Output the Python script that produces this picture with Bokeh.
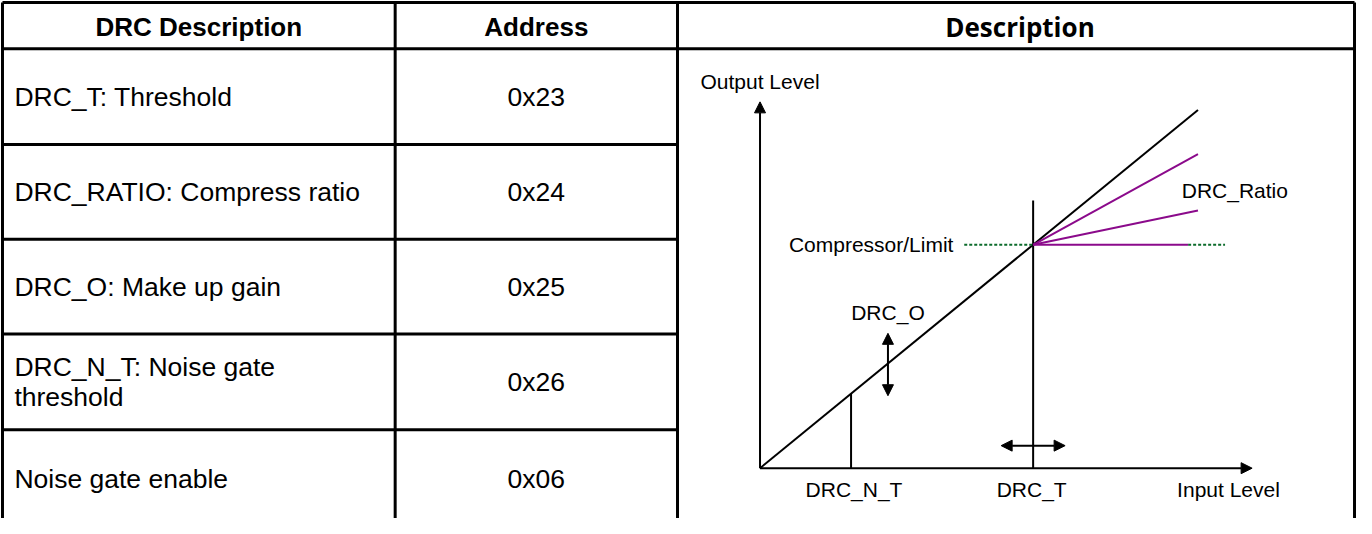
from bokeh.plotting import figure
from bokeh.models import Range1d, ColumnDataSource, Arrow, NormalHead
from bokeh.core.properties import value
from bokeh.embed import file_html
from bokeh.resources import INLINE

# ---------------- table content ----------------
headers = ["DRC Description", "Address", "Description"]
descriptions = [
    ["DRC_T: Threshold"],
    ["DRC_RATIO: Compress ratio"],
    ["DRC_O: Make up gain"],
    ["DRC_N_T: Noise gate", "threshold"],
    ["Noise gate enable"],
]
addresses = ["0x23", "0x24", "0x25", "0x26", "0x06"]

# ---------------- diagram values (level units, origin = 0) ----------------
input_axis_end = 100.0
output_axis_end = 91.0
noise_gate_level = 18.5
threshold_level = 55.5
unity_end_level = 89.0
ratio_end_input = [89.0, 89.0, 87.0]
ratio_end_output = [78.0, 64.0, 55.5]
threshold_marker_top = 66.5
limit_guide_left = 41.5
limit_guide_right_end = 94.5
makeup_arrow_x = 26.0
makeup_arrow_span = [18.0, 33.5]
threshold_arrow_y = 5.6
threshold_arrow_span = [49.0, 62.0]
diagram_labels = ["Output Level", "Compressor/Limit", "DRC_O", "DRC_Ratio",
                  "DRC_N_T", "DRC_T", "Input Level"]

# ---------------- layout (reference pixel frame) ----------------
W, H = 1356, 518
X0, X1 = 5, 1369
Y_TOP, Y_BOT = 5, 530
COLS = [7, 402, 686, 1367]
ROWS = [7, 54, 151, 247, 343, 440]
LAST_ROW_CENTER = 490
ORIGIN_X, ORIGIN_Y = 769, 479
PX_X, PX_Y = 4.95, 4.08

p = figure(width=W, height=H, x_range=Range1d(X0, X1), y_range=Range1d(Y_BOT, Y_TOP),
           output_backend="svg", toolbar_location=None, min_border=0)
p.axis.visible = False
p.grid.visible = False
p.outline_line_color = None
p.background_fill_color = "white"
p.border_fill_color = "white"

p.extra_x_ranges = {"lx": Range1d((X0 - ORIGIN_X) / PX_X, (X1 - ORIGIN_X) / PX_X)}
p.extra_y_ranges = {"ly": Range1d((ORIGIN_Y - Y_BOT) / PX_Y, (ORIGIN_Y - Y_TOP) / PX_Y)}

# ---------------- table grid ----------------
hx0, hy0, hx1, hy1 = [], [], [], []
for y in ROWS[:2]:
    hx0.append(COLS[0]); hx1.append(COLS[-1]); hy0.append(y); hy1.append(y)
for y in ROWS[2:]:
    hx0.append(COLS[0]); hx1.append(COLS[2]); hy0.append(y); hy1.append(y)
for x in COLS:
    hx0.append(x); hx1.append(x); hy0.append(ROWS[0]); hy1.append(Y_BOT + 10)
p.segment(x0=hx0, y0=hy0, x1=hx1, y1=hy1, line_color="black", line_width=3)

# headers
hy = (ROWS[0] + ROWS[1]) / 2 + 1
p.text(x=[(COLS[0] + COLS[1]) / 2, (COLS[1] + COLS[2]) / 2], y=[hy, hy], text=headers[:2],
       text_font=value("Liberation Sans"), text_font_style="bold", text_font_size="26px",
       text_align="center", text_baseline="middle", text_color="black")
p.text(x=[(COLS[2] + COLS[3]) / 2 + 4], y=[hy], text=headers[2:],
       text_font=value("Open Sans"), text_font_style="bold", text_font_size="26px",
       text_align="center", text_baseline="middle", text_color="black")

# body
centers = [(ROWS[i] + ROWS[i + 1]) / 2 for i in range(1, len(ROWS) - 1)] + [LAST_ROW_CENTER]
dx, dy, dt = [], [], []
for c, lines in zip(centers, descriptions):
    n = len(lines)
    for k, t in enumerate(lines):
        dx.append(COLS[0] + 12)
        dy.append(c + (k - (n - 1) / 2) * 31)
        dt.append(t)
p.text(x=dx, y=dy, text=dt, text_font=value("Liberation Sans"), text_font_size="26.5px",
       text_align="left", text_baseline="middle", text_color="black")
p.text(x=[(COLS[1] + COLS[2]) / 2] * len(addresses), y=centers, text=addresses,
       text_font=value("Liberation Sans"), text_font_size="26.5px",
       text_align="center", text_baseline="middle", text_color="black")

# ---------------- diagram ----------------
R = dict(x_range_name="lx", y_range_name="ly")
BLACK_W = 2

# unity line
p.line(x=[0, unity_end_level], y=[0, unity_end_level], line_color="black", line_width=BLACK_W, **R)
# threshold marker
p.line(x=[threshold_level, threshold_level], y=[0, threshold_marker_top],
       line_color="black", line_width=BLACK_W, **R)
# noise gate marker
p.line(x=[noise_gate_level, noise_gate_level], y=[0, noise_gate_level],
       line_color="black", line_width=BLACK_W, **R)
# ratio lines
p.segment(x0=[threshold_level] * 3, y0=[threshold_level] * 3, x1=ratio_end_input, y1=ratio_end_output,
          line_color="#8b0a8b", line_width=2, **R)
# limit guides
p.segment(x0=[limit_guide_left, ratio_end_input[2]], y0=[threshold_level] * 2,
          x1=[threshold_level, limit_guide_right_end], y1=[threshold_level] * 2,
          line_color="#0b6b2b", line_width=2, line_dash="3 2", **R)


def head():
    return NormalHead(size=11, fill_color="black", line_color="black", line_width=1)


# axes
p.add_layout(Arrow(end=head(), x_start=0, y_start=0, x_end=input_axis_end, y_end=0,
                   line_color="black", line_width=BLACK_W, **R))
p.add_layout(Arrow(end=head(), x_start=0, y_start=0, x_end=0, y_end=output_axis_end,
                   line_color="black", line_width=BLACK_W, **R))
# double arrows
p.add_layout(Arrow(start=head(), end=head(), x_start=makeup_arrow_x, y_start=makeup_arrow_span[0],
                   x_end=makeup_arrow_x, y_end=makeup_arrow_span[1],
                   line_color="black", line_width=BLACK_W, **R))
p.add_layout(Arrow(start=head(), end=head(), x_start=threshold_arrow_span[0], y_start=threshold_arrow_y,
                   x_end=threshold_arrow_span[1], y_end=threshold_arrow_y,
                   line_color="black", line_width=BLACK_W, **R))

# labels
lbl_y_axis = -5.4
left_src = ColumnDataSource(dict(x=[-12.1, 85.7], y=[96.1, 69.1],
                                 t=[diagram_labels[0], diagram_labels[3]]))
p.text(x="x", y="y", text="t", source=left_src, text_font=value("Liberation Sans"),
       text_font_size="21px", text_align="left", text_baseline="middle", text_color="black", **R)
right_src = ColumnDataSource(dict(x=[limit_guide_left - 2.2], y=[threshold_level],
                                  t=[diagram_labels[1]]))
p.text(x="x", y="y", text="t", source=right_src, text_font=value("Liberation Sans"),
       text_font_size="21px", text_align="right", text_baseline="middle", text_color="black", **R)
center_src = ColumnDataSource(dict(
    x=[makeup_arrow_x, noise_gate_level + 0.6, threshold_level - 0.3, 95.2],
    y=[38.7, lbl_y_axis, lbl_y_axis, lbl_y_axis],
    t=[diagram_labels[2], diagram_labels[4], diagram_labels[5], diagram_labels[6]]))
p.text(x="x", y="y", text="t", source=center_src, text_font=value("Liberation Sans"),
       text_font_size="21px", text_align="center", text_baseline="middle", text_color="black", **R)

open("out.html", "w").write(file_html(p, INLINE))
